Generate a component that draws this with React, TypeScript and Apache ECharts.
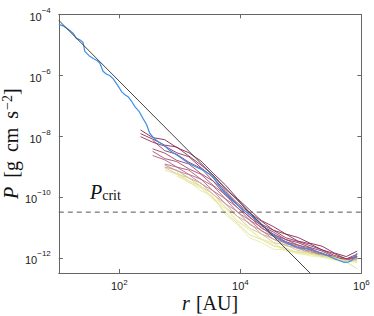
import React, { useEffect, useRef } from "react";
import * as echarts from "echarts";

// Axis extents (log10 units)
const xLogRange = [1, 6];
const yLogRange = [-12.5, -4];
const xTickExps = [2, 4, 6];
const yTickExps = [-12, -10, -8, -6, -4];

// Critical pressure (log10)
const pCritLog = -10.5;

// Power-law reference line endpoints (log10 r, log10 P)
const slopeLogR = [1, 6];
const slopeLogP = [-4.2, -14.2];

// Blue profile (log10 r, log10 P)
const blueLogR = [1.0, 1.07, 1.13, 1.2, 1.24, 1.29, 1.35, 1.4, 1.43, 1.5, 1.57, 1.63, 1.68, 1.73, 1.79, 1.84, 1.9, 1.95, 2.0, 2.04, 2.1, 2.15, 2.2, 2.26, 2.33, 2.39, 2.45, 2.5, 2.58, 2.64, 2.7, 2.77, 2.83, 2.9, 3.0, 3.08, 3.16, 3.25, 3.33, 3.41, 3.49, 3.55, 3.62, 3.71, 3.8, 3.93, 4.02, 4.1, 4.2, 4.31, 4.4, 4.48, 4.6, 4.7, 4.81, 4.9, 4.98, 5.06, 5.14, 5.22, 5.3, 5.41, 5.52, 5.62, 5.72, 5.78, 5.83, 5.88, 5.93];
const blueLogP = [-4.33, -4.38, -4.46, -4.56, -4.63, -4.79, -4.84, -4.92, -5.22, -5.36, -5.45, -5.52, -5.61, -5.87, -5.97, -6.01, -6.12, -6.27, -6.42, -6.55, -6.65, -6.72, -6.85, -7.04, -7.2, -7.42, -7.62, -7.9, -8.09, -8.18, -8.25, -8.36, -8.47, -8.56, -8.69, -8.8, -8.91, -9.0, -9.07, -9.15, -9.25, -9.36, -9.55, -9.79, -9.98, -10.23, -10.38, -10.5, -10.65, -10.83, -11.0, -11.16, -11.33, -11.45, -11.55, -11.63, -11.68, -11.68, -11.71, -11.76, -11.82, -11.9, -12.0, -12.08, -12.15, -12.14, -12.1, -12.0, -11.85];

// Bundle of profiles sampled on a common radius grid (log10 r)
const bundleLogR = [2.35, 2.55, 2.75, 2.95, 3.15, 3.35, 3.55, 3.75, 3.95, 4.15, 4.35, 4.55, 4.75, 4.95, 5.15, 5.35, 5.55, 5.75, 5.93];
const c01 = [-7.8, -8.05, -8.12, -8.38, -8.55, -8.82, -9.22, -9.6, -10.05, -10.42, -10.78, -10.98, -11.22, -11.33, -11.52, -11.62, -11.84, -11.96, -11.78];
const c02 = [-7.92, -8.1, -8.3, -8.36, -8.66, -8.95, -9.28, -9.74, -10.08, -10.52, -10.8, -11.1, -11.22, -11.45, -11.54, -11.74, -11.86, -12.04, -11.88];
const c03 = [-8.02, -8.2, -8.33, -8.55, -8.68, -9.04, -9.36, -9.8, -10.2, -10.52, -10.9, -11.1, -11.34, -11.46, -11.6, -11.74, -11.92, -12.03, -11.96];
const c04 = [null, -8.14, -8.48, -8.6, -8.86, -9.06, -9.48, -9.83, -10.25, -10.58, -10.95, -11.16, -11.4, -11.5, -11.66, -11.78, -11.97, -12.06, -12.0];
const c05 = [null, -8.42, -8.56, -8.8, -8.92, -9.24, -9.48, -9.94, -10.26, -10.68, -10.93, -11.24, -11.4, -11.58, -11.68, -11.88, -11.96, -12.12, -11.9];
const c06 = [null, -8.5, -8.74, -8.84, -9.08, -9.26, -9.62, -9.92, -10.36, -10.64, -11.03, -11.22, -11.48, -11.58, -11.75, -11.84, -12.02, -12.05, -11.96];
const c07 = [null, -8.64, -8.78, -9.02, -9.12, -9.42, -9.64, -10.06, -10.34, -10.76, -11.0, -11.3, -11.46, -11.66, -11.72, -11.93, -12.0, -12.14, -12.04];
const c08 = [null, null, -8.92, -9.02, -9.26, -9.42, -9.8, -10.06, -10.5, -10.76, -11.12, -11.3, -11.54, -11.62, -11.82, -11.88, -12.03, -12.06, -11.97];
const c09 = [null, null, -8.95, -9.14, -9.27, -9.56, -9.8, -10.22, -10.48, -10.9, -11.1, -11.4, -11.5, -11.7, -11.77, -11.95, -12.0, -12.12, -12.02];
const c10 = [null, null, -9.02, -9.12, -9.38, -9.55, -9.92, -10.22, -10.64, -10.86, -11.22, -11.38, -11.6, -11.68, -11.85, -11.9, -12.05, -12.1, -12.1];
const c11 = [null, null, -9.04, -9.24, -9.38, -9.66, -9.9, -10.34, -10.64, -11.02, -11.22, -11.5, -11.58, -11.76, -11.82, -11.95, -11.98, -12.12, -12.04];
const c12 = [null, null, null, -9.2, -9.48, -9.64, -10.04, -10.5, -10.86, -11.24, -11.4, -11.62, -11.68, -11.83, -11.84, -11.95, -11.98, -12.14, -12.36];
const c13 = [null, null, -9.12, -9.26, -9.53, -9.7, -10.08, -10.38, -10.8, -11.08, -11.38, -11.52, -11.75, -11.8, -11.9, -11.93, -12.04, -12.08, -12.16];
const c14 = [null, null, null, -9.32, -9.5, -9.8, -9.98, -10.58, -10.9, -11.34, -11.5, -11.72, -11.74, -11.87, -11.88, -11.98, -12.02, -12.12, -12.1];
const c15 = [null, null, null, -9.24, -9.5, -9.66, -10.02, -10.32, -10.78, -11.02, -11.4, -11.58, -11.78, -11.84, -11.94, -11.98, -12.08, -12.13, -12.12];
const bundleCurves = [c01, c02, c03, c04, c05, c06, c07, c08, c09, c10, c11, c12, c13, c14, c15];
const bundleColors = ["#7a1d45", "#82224b", "#8a2852", "#923059", "#993a61", "#a04468", "#a85272", "#b0627c", "#bb7d84", "#c59c88", "#d3c08c", "#dbd98e", "#e0e492", "#e5ea9c", "#ebefaa"];

const supLabel = (v: number) => `{b|10}{s|${v < 0 ? "\u2212" : ""}${Math.abs(v)}}`;
const isTick = (v: number, list: number[]) => list.some((t) => Math.abs(t - v) < 1e-6);

const tickFont = "'Liberation Sans', Arial, sans-serif";
const serif = "'Liberation Serif', 'Times New Roman', serif";
const textColor = "#1a1a1a";
const titleColor = "#111";

const yRich = {
  b: { fontSize: 11, fontFamily: tickFont, color: textColor, lineHeight: 16, verticalAlign: "bottom" as const },
  s: { fontSize: 8, fontFamily: tickFont, color: textColor, verticalAlign: "top" as const },
};
const xRich = {
  b: { fontSize: 11, fontFamily: tickFont, color: textColor, lineHeight: 13, verticalAlign: "bottom" as const },
  s: { fontSize: 8, fontFamily: tickFont, color: textColor, verticalAlign: "top" as const },
};

const titleRich = {
  i: { fontFamily: serif, fontSize: 20, fontStyle: "italic" as const, color: titleColor },
  r: { fontFamily: serif, fontSize: 20, color: titleColor },
  sp: { fontFamily: serif, fontSize: 20, color: titleColor, width: 9 },
  s: { fontFamily: serif, fontSize: 14, verticalAlign: "top" as const, color: titleColor, padding: [0, 0, 0, 1] },
};

const frameColor = "#666";

function buildOption() {
  const series: any[] = [];
  bundleCurves.forEach((vals, k) => {
    series.push({
      type: "line",
      data: bundleLogR.map((r, i) => [r, vals[i]]).filter((p) => p[1] !== null),
      showSymbol: false,
      symbol: "none",
      silent: true,
      lineStyle: { color: bundleColors[k], width: 1, opacity: 0.85 },
      z: 2,
    });
  });
  series.push({
    type: "line",
    data: blueLogR.map((r, i) => [r, blueLogP[i]]),
    showSymbol: false,
    symbol: "none",
    silent: true,
    lineStyle: { color: "#3d8fe8", width: 1.2 },
    z: 3,
  });
  series.push({
    type: "line",
    data: slopeLogR.map((r, i) => [r, slopeLogP[i]]),
    showSymbol: false,
    symbol: "none",
    silent: true,
    clip: true,
    lineStyle: { color: "#444", width: 1 },
    z: 4,
  });
  series.push({
    type: "line",
    data: xLogRange.map((r) => [r, pCritLog]),
    showSymbol: false,
    symbol: "none",
    silent: true,
    lineStyle: { color: "#555", width: 1, type: [5, 4] },
    z: 4,
  });

  const axisLine = { show: true, lineStyle: { color: frameColor, width: 1 } };
  const axisTick = { show: true, inside: true, length: 4, lineStyle: { color: frameColor } };

  return {
    animation: false,
    grid: { left: 58.8, right: 12.6, top: 14.3, bottom: 43, containLabel: false, outerBoundsMode: "none" },
    xAxis: [
      {
        type: "value",
        min: xLogRange[0],
        max: xLogRange[1],
        splitNumber: 3,
        position: "bottom",
        axisLine,
        axisTick,
        splitLine: { show: false },
        axisLabel: {
          margin: 5,
          color: textColor,
          formatter: (v: number) => (isTick(v, xTickExps) ? supLabel(Math.round(v)) : ""),
          rich: xRich,
          showMinLabel: true,
          showMaxLabel: true,
        },
        name: "{i|r}{sp| }{r|[AU]}",
        nameLocation: "middle",
        nameGap: 20,
        nameMoveOverlap: false,
        nameTextStyle: { fontFamily: serif, fontSize: 20, color: titleColor, rich: { ...titleRich, sp: { ...titleRich.sp, width: 6 } } },
      },
      {
        type: "value",
        min: xLogRange[0],
        max: xLogRange[1],
        splitNumber: 3,
        position: "top",
        axisLine,
        axisTick,
        splitLine: { show: false },
        axisLabel: { show: false },
      },
    ],
    yAxis: [
      {
        type: "value",
        min: yLogRange[0],
        max: yLogRange[1],
        splitNumber: 5,
        position: "left",
        axisLine,
        axisTick,
        splitLine: { show: false },
        axisLabel: {
          margin: 8,
          color: textColor,
          formatter: (v: number) => (isTick(v, yTickExps) ? supLabel(Math.round(v)) : ""),
          rich: yRich,
          showMinLabel: true,
          showMaxLabel: true,
        },
        name: "{i|P}{sp| }{r|[g}{sp| }{r|cm}{sp| }{r|s}{s|\u22122}{r|]}",
        nameLocation: "middle",
        nameGap: 38,
        nameMoveOverlap: false,
        nameTextStyle: { fontFamily: serif, fontSize: 20, color: titleColor, rich: titleRich },
      },
      {
        type: "value",
        min: yLogRange[0],
        max: yLogRange[1],
        splitNumber: 5,
        position: "right",
        axisLine,
        axisTick,
        splitLine: { show: false },
        axisLabel: { show: false },
      },
    ],
    graphic: [
      {
        type: "text",
        left: 90,
        top: 182,
        silent: true,
        style: {
          text: "{i|P}{sub|crit}",
          rich: {
            i: { fontFamily: serif, fontSize: 20, fontStyle: "italic", fill: titleColor, verticalAlign: "top" },
            sub: { fontFamily: serif, fontSize: 14, fill: titleColor, verticalAlign: "bottom" },
          },
        },
      },
    ],
    series,
  };
}

export default function App() {
  const ref = useRef<HTMLDivElement>(null);
  useEffect(() => {
    const chart = echarts.init(ref.current!, null, { renderer: "svg" });
    chart.setOption(buildOption() as any);
    return () => chart.dispose();
  }, []);
  return (
    <div
      ref={ref}
      style={{ position: "absolute", left: 0, top: 0, width: 374, height: 316, background: "#fff" }}
    />
  );
}
